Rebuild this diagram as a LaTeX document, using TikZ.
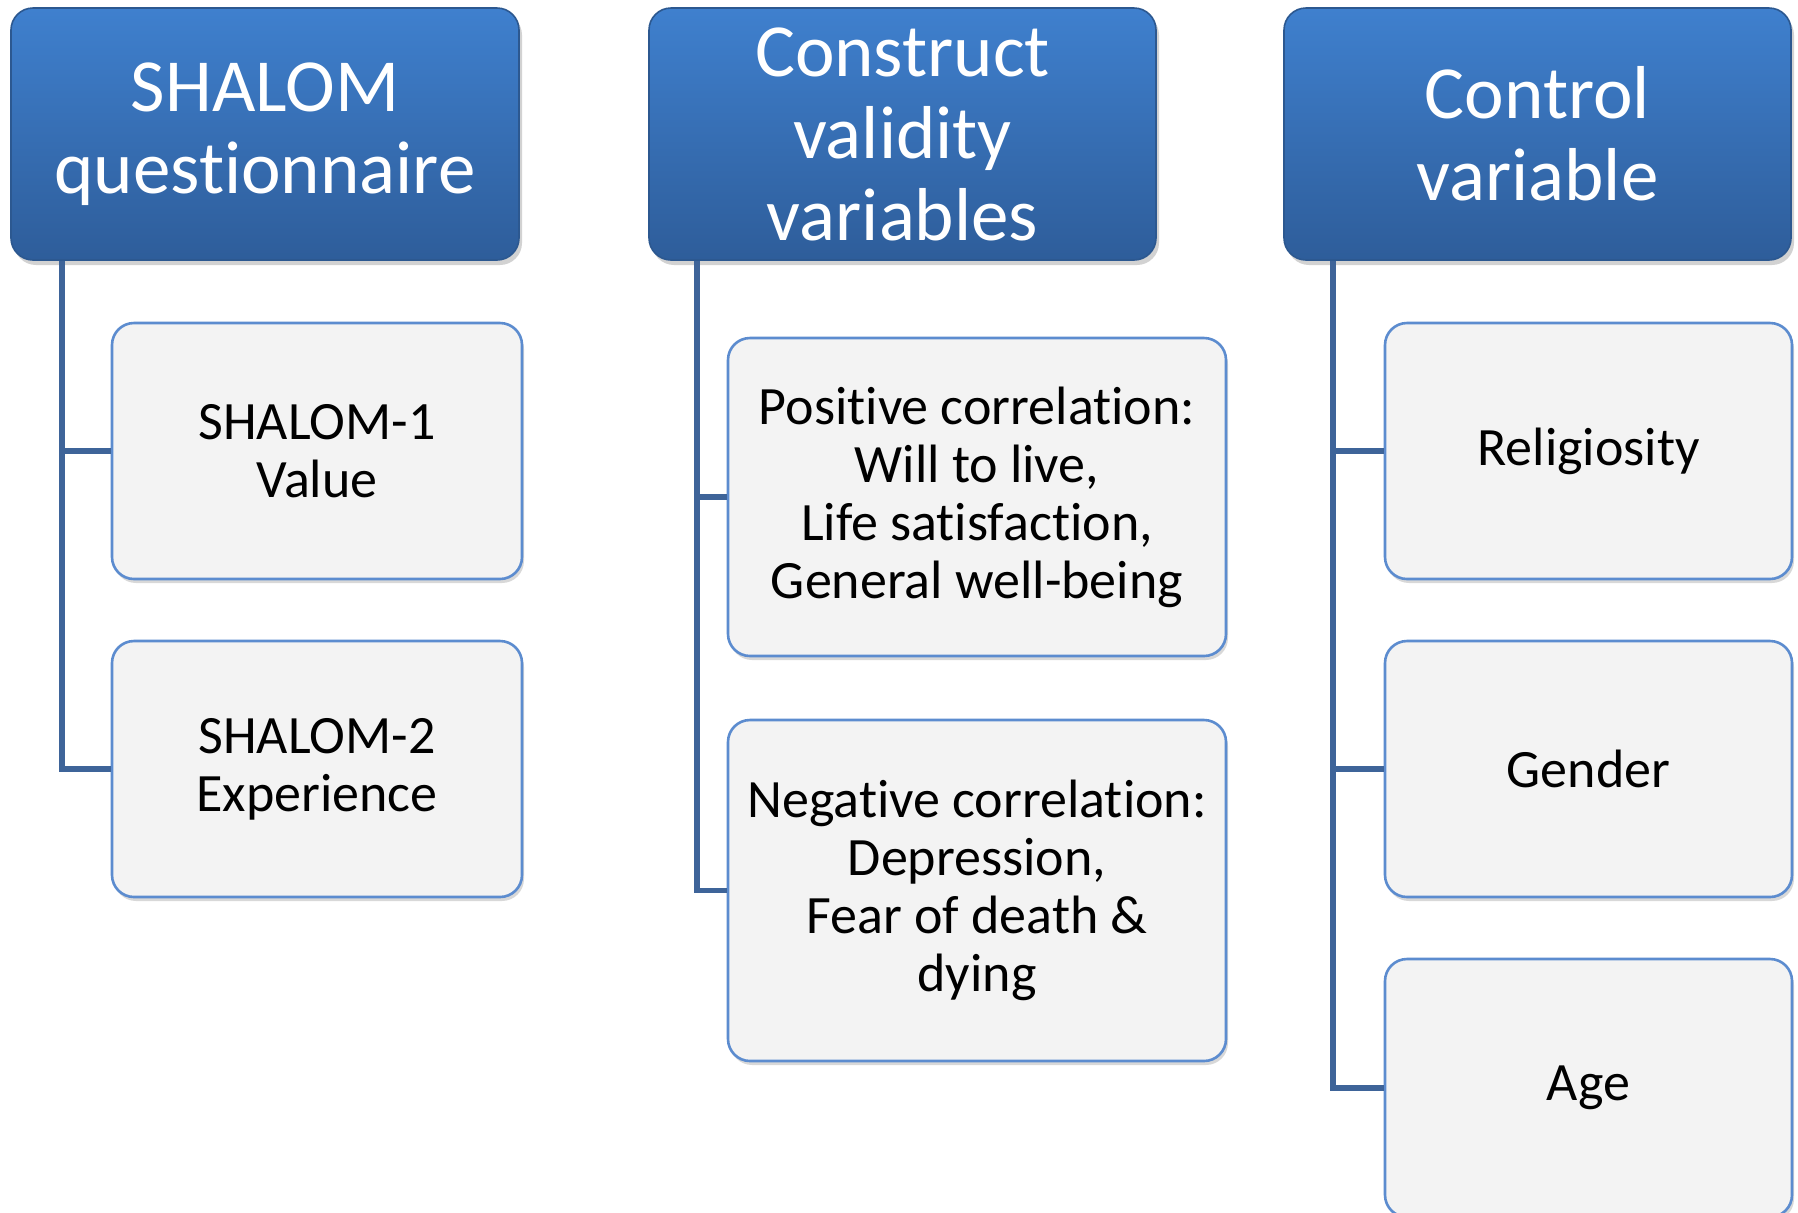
\documentclass[tikz,border=0pt]{standalone}
\usepackage{fontspec}
\setmainfont[Ligatures=NoCommon]{Carlito}
\usetikzlibrary{shadows}
\definecolor{hdrtop}{HTML}{3F80CE}
\definecolor{hdrbot}{HTML}{2E5D9A}
\definecolor{hdrline}{HTML}{2C5890}
\definecolor{boxfill}{HTML}{F3F3F3}
\definecolor{boxline}{HTML}{5C8CCF}
\definecolor{connc}{HTML}{3E6499}
\tikzset{
  hdr/.style={rectangle, rounded corners=11pt, top color=hdrtop, bottom color=hdrbot,
    draw=hdrline, line width=0.8pt, text=white, align=center, inner sep=0pt,
    font=\fontsize{37.5}{41}\selectfont,
    drop shadow={shadow xshift=1.5pt, shadow yshift=-2.5pt, opacity=0.35}},
  child/.style={rectangle, rounded corners=11pt, fill=boxfill, draw=boxline,
    line width=1.3pt, text=black, align=center, inner sep=0pt,
    font=\fontsize{27}{29}\selectfont,
    drop shadow={shadow xshift=1pt, shadow yshift=-2pt, opacity=0.3}},
  conn/.style={draw=connc, line width=2.8pt, line join=miter}
}
\begin{document}
\begin{tikzpicture}[x=0.5pt,y=-0.5pt]
\useasboundingbox (0,0) rectangle (1798,1212);
\fill[white] (0,0) rectangle (1798,1212);
% headers
\node[hdr, minimum width=254pt, minimum height=126pt] (h1) at (265,134) {SHALOM\\questionnaire};
\node[hdr, minimum width=253.5pt, minimum height=126pt] (h2) at (902.5,134) {Construct\\validity\\variables};
\node[hdr, minimum width=253.5pt, minimum height=126pt] (h3) at (1537.5,134) {Control\\variable};
% column 1
\node[child, minimum width=205pt, minimum height=128pt] (c1a) at (317,451) {SHALOM-1\\Value};
\node[child, minimum width=205pt, minimum height=128pt] (c1b) at (317,769) {SHALOM-2\\Experience};
% column 2
\node[child, minimum width=249pt, minimum height=159pt] (c2a) at (977,497) {Positive correlation:\\Will to live,\\Life satisfaction,\\General well-being};
\node[child, minimum width=249pt, minimum height=170.5pt] (c2b) at (977,890.5) {Negative correlation:\\Depression,\\Fear of death \&\\dying};
% column 3
\node[child, minimum width=203.5pt, minimum height=128pt] (c3a) at (1588.5,451) {Religiosity};
\node[child, minimum width=203.5pt, minimum height=128pt] (c3b) at (1588.5,769) {Gender};
\node[child, minimum width=203.5pt, minimum height=129pt] (c3c) at (1588.5,1088) {Age};
% connectors
\draw[conn] ([xshift=26pt]h1.south west) |- (c1b.west);
\draw[conn] ([xshift=26pt]h1.south west) |- (c1a.west);
\draw[conn] ([xshift=24.5pt]h2.south west) |- (c2b.west);
\draw[conn] ([xshift=24.5pt]h2.south west) |- (c2a.west);
\draw[conn] ([xshift=25pt]h3.south west) |- (c3c.west);
\draw[conn] ([xshift=25pt]h3.south west) |- (c3b.west);
\draw[conn] ([xshift=25pt]h3.south west) |- (c3a.west);
\end{tikzpicture}
\end{document}
